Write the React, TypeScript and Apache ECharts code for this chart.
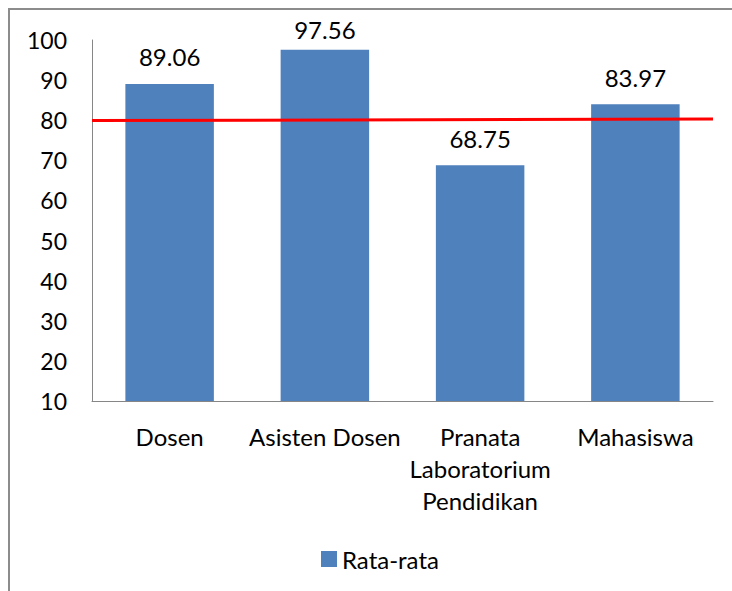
import React, { useEffect, useRef } from "react";
import * as echarts from "echarts";

const categories = ["Dosen", "Asisten Dosen", "Pranata\nLaboratorium\nPendidikan", "Mahasiswa"];
const values = [89.06, 97.56, 68.75, 83.97];
const seriesName = "Rata-rata";
const refLine = [[0, 79.9], [1, 80.3]];
const yTicks = { min: 10, max: 100, interval: 10 };

const FONT = "Lato";

export default function App() {
  const ref = useRef<HTMLDivElement>(null);
  useEffect(() => {
    if (!ref.current) return;
    const chart = echarts.init(ref.current, undefined, { renderer: "svg" });
    chart.setOption({
      animation: false,
      backgroundColor: "#ffffff",
      textStyle: { fontFamily: FONT },
      graphic: [
        {
          type: "rect",
          shape: { x: 9, y: 9, width: 740, height: 600 },
          style: { fill: "none", stroke: "#8c8c8c", lineWidth: 2 },
          silent: true,
        },
      ],
      grid: { left: 92, top: 40, right: 19, bottom: 190 },
      legend: {
        data: [seriesName],
        left: 316,
        top: 542,
        itemWidth: 16,
        itemHeight: 16,
        itemGap: 5,
        icon: "rect",
        textStyle: { fontFamily: FONT, fontSize: 24, color: "#000" },
      },
      xAxis: [
        {
          type: "category",
          data: categories,
          axisLine: { lineStyle: { color: "#868686", width: 1 } },
          axisTick: { show: false },
          axisLabel: {
            interval: 0,
            margin: 19,
            fontFamily: FONT,
            fontSize: 24,
            color: "#000",
            lineHeight: 32,
          },
        },
        { type: "value", min: 0, max: 1, show: false },
      ],
      yAxis: {
        type: "value",
        min: yTicks.min,
        max: yTicks.max,
        interval: yTicks.interval,
        axisLine: { show: true, lineStyle: { color: "#868686", width: 1 } },
        axisTick: { show: false },
        splitLine: { show: false },
        axisLabel: { margin: 25, fontFamily: FONT, fontSize: 23, color: "#000" },
      },
      series: [
        {
          name: seriesName,
          type: "bar",
          data: values.map((v) =>
            v > 95 ? { value: v, label: { distance: 8 } } : { value: v }
          ),
          barWidth: "57%",
          itemStyle: { color: "#4F81BD" },
          label: {
            show: true,
            position: "top",
            distance: 15,
            formatter: (p: any) => Number(p.value).toFixed(2),
            fontFamily: FONT,
            fontSize: 24,
            color: "#000",
          },
        },
        {
          name: "ref",
          type: "line",
          xAxisIndex: 1,
          data: refLine,
          symbol: "none",
          lineStyle: { color: "#FF0000", width: 3 },
          z: 5,
        },
      ],
    });
    return () => chart.dispose();
  }, []);
  return (
    <div
      ref={ref}
      style={{ position: "fixed", left: 0, top: 0, width: 732, height: 591 }}
    />
  );
}
